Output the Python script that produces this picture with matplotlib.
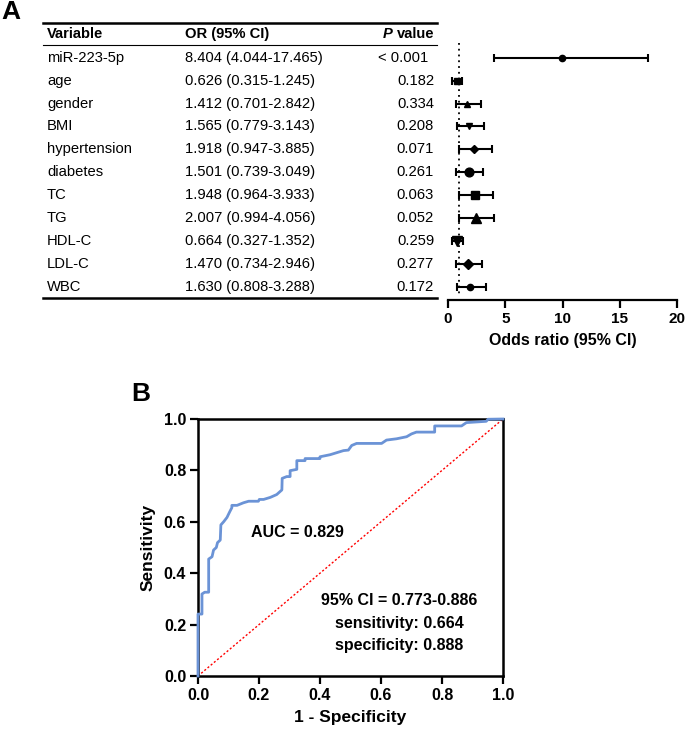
import matplotlib
matplotlib.use("Agg")
import matplotlib.pyplot as plt
import numpy as np

plt.rcParams['font.family'] = ['Liberation Sans', 'DejaVu Sans']

# ---------------- Panel A data ----------------
variables = ["miR-223-5p", "age", "gender", "BMI", "hypertension", "diabetes",
             "TC", "TG", "HDL-C", "LDL-C", "WBC"]
or_text = ["8.404 (4.044-17.465)", "0.626 (0.315-1.245)", "1.412 (0.701-2.842)",
           "1.565 (0.779-3.143)", "1.918 (0.947-3.885)", "1.501 (0.739-3.049)",
           "1.948 (0.964-3.933)", "2.007 (0.994-4.056)", "0.664 (0.327-1.352)",
           "1.470 (0.734-2.946)", "1.630 (0.808-3.288)"]
p_text = ["< 0.001", "0.182", "0.334", "0.208", "0.071", "0.261",
          "0.063", "0.052", "0.259", "0.277", "0.172"]
ci_low = [4.044, 0.315, 0.701, 0.779, 0.947, 0.739, 0.964, 0.994, 0.327, 0.734, 0.808]
ci_high = [17.465, 1.245, 2.842, 3.143, 3.885, 3.049, 3.933, 4.056, 1.352, 2.946, 3.288]
# plotted point positions
point_x = [9.95, 0.76, 1.69, 1.86, 2.27, 1.81, 2.33, 2.45, 0.81, 1.72, 1.92]
markers = ['o', 's', '^', 'v', 'D', 'o', 's', '^', 'v', 'D', 'o']
msizes = [4.5, 4.5, 4.3, 4.8, 3.8, 6.3, 6.3, 6.8, 6.8, 4.8, 4.5]
forest_ticks = [0, 5, 10, 15, 20]

# ---------------- Panel B data ----------------
roc_fpr = [0, 0, 0.013, 0.013, 0.022, 0.035, 0.035, 0.046, 0.051, 0.060, 0.064, 0.073,
           0.075, 0.084, 0.095, 0.104, 0.111, 0.111, 0.128, 0.149, 0.166, 0.198, 0.201,
           0.215, 0.237, 0.258, 0.275, 0.276, 0.291, 0.302, 0.302, 0.324, 0.324, 0.351,
           0.351, 0.400, 0.400, 0.433, 0.477, 0.493, 0.504, 0.520, 0.602, 0.618, 0.651,
           0.684, 0.700, 0.716, 0.776, 0.776, 0.864, 0.880, 0.945, 0.951, 1.0]
roc_tpr = [0, 0.241, 0.241, 0.319, 0.326, 0.326, 0.455, 0.464, 0.490, 0.500, 0.519, 0.529,
           0.588, 0.600, 0.617, 0.639, 0.655, 0.664, 0.664, 0.674, 0.680, 0.680, 0.687,
           0.687, 0.695, 0.706, 0.724, 0.769, 0.776, 0.776, 0.799, 0.804, 0.838, 0.838,
           0.846, 0.846, 0.853, 0.861, 0.877, 0.879, 0.897, 0.905, 0.905, 0.918, 0.923,
           0.931, 0.942, 0.949, 0.949, 0.973, 0.973, 0.986, 0.991, 0.999, 1.0]
auc_label = "AUC = 0.829"
stats_lines = ["95% CI = 0.773-0.886", "sensitivity: 0.664", "specificity: 0.888"]
roc_ticks = [0.0, 0.2, 0.4, 0.6, 0.8, 1.0]

W, H = 685, 735
fig = plt.figure(figsize=(W / 100, H / 100), dpi=100)


def frac_rect(x0, y0, x1, y1):
    return [x0 / W, 1 - y1 / H, (x1 - x0) / W, (y1 - y0) / H]


# row geometry (pixels): row 0 at 57.7, spacing 22.93
r0, dr = 57.7, 22.93
top_px, bot_px = 23, 299
y_top = (top_px - r0) / dr
y_bot = (bot_px - r0) / dr

# ---------------- Table ----------------
axt = fig.add_axes(frac_rect(0, top_px, 440, bot_px))
axt.set_xlim(0, 440)
axt.set_ylim(y_bot, y_top)
axt.axis('off')
fs = 10.6
yh = (34 - r0) / dr
axt.text(47, yh, "Variable", fontsize=fs, fontweight='bold', va='center', ha='left')
axt.text(185, yh, "OR (95% CI)", fontsize=fs, fontweight='bold', va='center', ha='left')
axt.text(434, yh, "value", fontsize=fs, fontweight='bold', va='center', ha='right')
axt.text(393, yh, "P", fontsize=fs, fontweight='bold', fontstyle='italic', va='center', ha='right')
for i, (v, o, p) in enumerate(zip(variables, or_text, p_text)):
    axt.text(47, i, v, fontsize=fs, va='center', ha='left')
    axt.text(185, i, o, fontsize=fs, va='center', ha='left')
    if p.startswith("<"):
        axt.text(428, i, p, fontsize=fs, va='center', ha='right')
    else:
        axt.text(434, i, p, fontsize=fs, va='center', ha='right')
axt.plot([43, 437], [y_top, y_top], color='black', lw=1.8, clip_on=False)
axt.plot([43, 437], [(45 - r0) / dr] * 2, color='black', lw=0.8, clip_on=False)
axt.plot([43, 437], [(298 - r0) / dr] * 2, color='black', lw=1.8, clip_on=False)

# ---------------- Forest ----------------
axf = fig.add_axes(frac_rect(448, top_px, 677, 300))
axf.set_xlim(0, 20)
axf.set_ylim((300 - r0) / dr, y_top)
rows = np.arange(len(variables))
axf.plot([1, 1], [(43 - r0) / dr, (296 - r0) / dr], color='black', lw=1.3,
         linestyle=(0, (1, 2.2)))
for i in rows:
    axf.errorbar([point_x[i]], [i], xerr=[[point_x[i] - ci_low[i]], [ci_high[i] - point_x[i]]],
                 fmt='none', ecolor='black', elinewidth=1.5, capsize=3.2, capthick=1.5)
    axf.plot(point_x[i], i, marker=markers[i], markersize=msizes[i], color='black',
             linestyle='none')
for s in ['left', 'right', 'top']:
    axf.spines[s].set_visible(False)
axf.spines['bottom'].set_linewidth(1.6)
axf.set_yticks([])
axf.set_xticks(forest_ticks)
axf.set_xticklabels([str(t) for t in forest_ticks], fontsize=11, fontweight='bold')
axf.tick_params(axis='x', direction='out', length=5.5, width=1.6, pad=3)
axf.set_xlabel("Odds ratio (95% CI)", fontsize=11.5, fontweight='bold', labelpad=5)

fig.text(1 / W, 1 - 12 / H, "A", fontsize=19, fontweight='bold', va='center', ha='left')

# ---------------- ROC ----------------
axr = fig.add_axes(frac_rect(198, 419, 503, 676))
axr.set_xlim(0, 1)
axr.set_ylim(0, 1)
axr.plot([0, 1], [0, 1], color='red', lw=1.0, linestyle=(0, (1.5, 1.5)))
axr.plot(roc_fpr, roc_tpr, color='#6b93d6', lw=2.0, clip_on=False, zorder=3)
for s in axr.spines.values():
    s.set_linewidth(1.8)
axr.set_xticks(roc_ticks)
axr.set_yticks(roc_ticks)
axr.set_xticklabels([f"{t:.1f}" for t in roc_ticks], fontsize=11.5, fontweight='bold')
axr.set_yticklabels([f"{t:.1f}" for t in roc_ticks], fontsize=11.5, fontweight='bold')
axr.tick_params(direction='out', length=5.5, width=1.6, pad=3)
axr.set_xlabel("1 - Specificity", fontsize=12.5, fontweight='bold', labelpad=5)
axr.set_ylabel("Sensitivity", fontsize=12.5, fontweight='bold', labelpad=6)
axr.text(0.173, 0.559, auc_label, fontsize=11.5, fontweight='bold', va='center', ha='left')
for yy, line in zip([0.293, 0.205, 0.118], stats_lines):
    axr.text(0.659, yy, line, fontsize=11.5, fontweight='bold', va='center', ha='center')

fig.text(131 / W, 1 - 394 / H, "B", fontsize=19, fontweight='bold', va='center', ha='left')

fig.savefig("out.png", dpi=100)
